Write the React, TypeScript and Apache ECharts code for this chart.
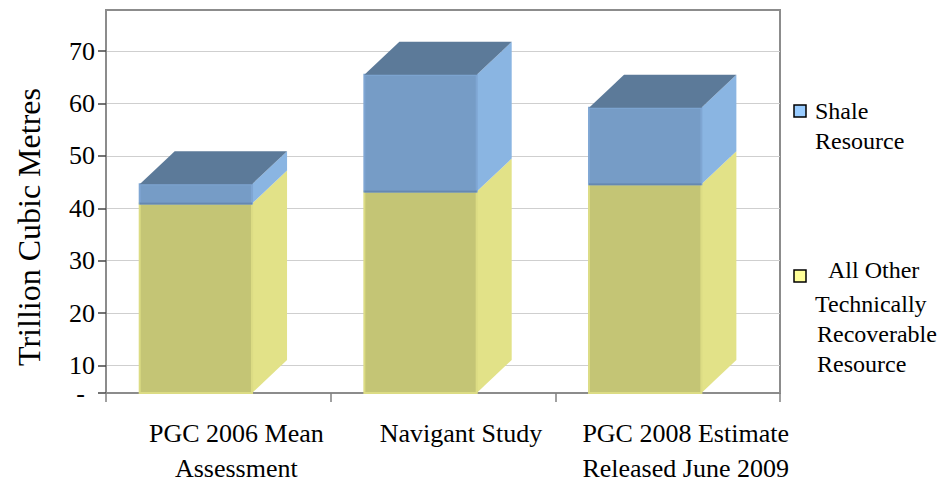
import React, { useEffect, useRef } from "react";
import * as echarts from "echarts";

const categories = [
  "PGC 2006 Mean\nAssessment",
  "Navigant Study",
  "PGC 2008 Estimate\nReleased June 2009",
];
const otherResource = [40.9, 43.2, 44.6];
const shaleResource = [3.7, 22.3, 14.6];
const yFloor = 4.73;
const yMax = 77.87;
const yTickValues = [10, 20, 30, 40, 50, 60, 70];
const yFloorLabel = "-";
const legendShale = ["Shale", "Resource"];
const legendOther = ["All Other", "Technically", "Recoverable", "Resource"];
const yAxisTitle = "Trillion Cubic Metres";

const FONT = "Liberation Serif";

export default function App() {
  const ref = useRef<HTMLDivElement>(null);
  useEffect(() => {
    if (!ref.current) return;
    const chart = echarts.init(ref.current, undefined, { renderer: "svg" });
    const DX = 35;
    const DY = 33;
    const makeRender = (isTop: boolean, c: { front: string; side: string; top: string; edge: string; bottomLine: string }) =>
      (params: any, api: any) => {
        const i = api.value(0);
        const lo = api.value(1);
        const hi = api.value(2);
        const cs = params.coordSys;
        const floorY = cs.y + cs.height;
        const pTop = api.coord([i, hi]);
        const pLo = api.coord([i, lo]);
        const band = api.size([1, 0])[0];
        const w = band * 0.5;
        const cx = pTop[0] - band * 0.1;
        const x0 = cx - w / 2;
        const x1 = x0 + w;
        const yT = pTop[1];
        const yB = Math.min(pLo[1], floorY);
        const children: any[] = [
          {
            type: "polygon",
            shape: { points: [[x1, yT], [x1 + DX, yT - DY], [x1 + DX, yB - DY], [x1, yB]] },
            style: { fill: c.side },
          },
          {
            type: "rect",
            shape: { x: x0, y: yT, width: w, height: yB - yT },
            style: { fill: c.front, stroke: c.edge, lineWidth: 2 },
          },
          {
            type: "line",
            shape: { x1: x0, y1: yB, x2: x1, y2: yB },
            style: { stroke: c.bottomLine, lineWidth: 2 },
          },
        ];
        if (isTop) {
          children.push({
            type: "polygon",
            shape: { points: [[x0, yT], [x0 + DX, yT - DY], [x1 + DX, yT - DY], [x1, yT]] },
            style: { fill: c.top },
          });
        }
        return { type: "group", children };
      };

    const textStyle = (t: string, size: number) => ({
      text: t,
      fontFamily: FONT,
      fontSize: size,
      fill: "#000",
      textVerticalAlign: "middle",
    });

    const legendItems: any[] = [];
    legendItems.push({
      type: "rect",
      shape: { x: 794, y: 105, width: 12, height: 12 },
      style: { fill: "#99ccff", stroke: "#000", lineWidth: 1.5 },
    });
    legendShale.forEach((t, k) => {
      legendItems.push({ type: "text", x: 815, y: 111 + k * 30, style: textStyle(t, 24) });
    });
    legendItems.push({
      type: "rect",
      shape: { x: 794, y: 270, width: 12, height: 12 },
      style: { fill: "#ffff99", stroke: "#000", lineWidth: 1.5 },
    });
    const otherX = [828, 815, 817, 817];
    const otherY = [270, 304, 334, 364];
    legendOther.forEach((t, k) => {
      legendItems.push({ type: "text", x: otherX[k], y: otherY[k], style: textStyle(t, 24) });
    });

    chart.setOption({
      animation: false,
      backgroundColor: "#fff",
      textStyle: { fontFamily: FONT },
      grid: {
        left: 106,
        right: 159,
        top: 10,
        bottom: 92,
        show: true,
        borderColor: "#8c8c8c",
        borderWidth: 2,
        outerBoundsMode: "none",
      },
      xAxis: {
        type: "category",
        data: categories,
        boundaryGap: true,
        axisLine: { lineStyle: { color: "#8c8c8c", width: 2 } },
        axisTick: { show: true, length: 9, lineStyle: { color: "#808080", width: 1.5 } },
        axisLabel: {
          interval: 0,
          color: "#000",
          fontFamily: FONT,
          fontSize: 26,
          lineHeight: 35,
          margin: 23,
          padding: [0, 0, 0, 36],
        },
      },
      yAxis: {
        type: "value",
        min: yFloor,
        max: yMax,
        axisLine: { show: true, lineStyle: { color: "#8c8c8c", width: 2 } },
        axisTick: {
          show: true,
          length: 8,
          customValues: [yFloor, ...yTickValues],
          lineStyle: { color: "#444", width: 1.5 },
        },
        axisLabel: {
          customValues: [yFloor, ...yTickValues],
          color: "#000",
          fontFamily: FONT,
          fontSize: 26,
          margin: 11,
          formatter: (v: number) => (Math.abs(v - yFloor) < 1e-6 ? `{dash|${yFloorLabel}}` : `{num|${v}}`),
          rich: {
            dash: { fontFamily: FONT, fontSize: 26, color: "#000", padding: [0, 10, 0, 0] },
            num: { fontFamily: FONT, fontSize: 26, color: "#000" },
          },
        },
        splitLine: { show: true, lineStyle: { color: "#cfcfcf", width: 1 } },
      },
      graphic: [
        {
          type: "text",
          x: 29,
          y: 227,
          rotation: Math.PI / 2,
          style: { ...textStyle(yAxisTitle, 32), textAlign: "center" },
        },
        ...legendItems,
      ],
      series: [
        {
          type: "custom",
          name: "All Other Technically Recoverable Resource",
          renderItem: makeRender(false, {
            front: "#c4c575",
            side: "#e2e288",
            top: "#d8d880",
            edge: "#dcdc84",
            bottomLine: "#dcdc84",
          }),
          encode: { x: 0, y: [1, 2] },
          data: otherResource.map((v, i) => [i, 0, v]),
        },
        {
          type: "custom",
          name: "Shale Resource",
          renderItem: makeRender(true, {
            front: "#769cc6",
            side: "#8ab5e2",
            top: "#5c7a99",
            edge: "#7fa6d3",
            bottomLine: "#6688b0",
          }),
          encode: { x: 0, y: [1, 2] },
          data: shaleResource.map((v, i) => [i, otherResource[i], otherResource[i] + v]),
        },
      ],
    });
    return () => chart.dispose();
  }, []);
  return <div ref={ref} style={{ position: "fixed", left: 0, top: 0, width: 939, height: 485 }} />;
}
